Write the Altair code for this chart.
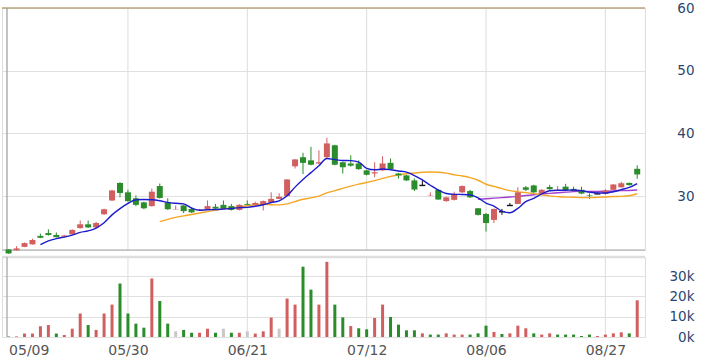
import altair as alt
import pandas as pd

# ---- data ----
tick_idx = [0, 15, 30, 45, 60, 75]
tick_labels = ["05/09", "05/30", "06/21", "07/12", "08/06", "08/27"]
price_ticks = [30, 40, 50, 60]
volume_ticks = [0, 10000, 20000, 30000]

opens = [21.5, 21.35, 21.9, 22.3, 23.65, 24.1, 23.8, 23.5, 23.9, 24.9,
         25.5, 25.0, 27.1, 29.3, 32.1, 30.6, 29.65, 29.0, 28.4, 31.6,
         29.0, 27.85, 28.5, 27.95, 27.75, 27.95, 28.3, 28.6, 28.4, 27.8,
         28.75, 28.6, 28.6, 29.0, 29.55, 30.0, 34.75, 36.2, 35.7, 35.2,
         36.2, 38.1, 35.4, 35.2, 35.2, 34.1, 33.6, 34.1, 35.3, 33.6,
         33.3, 32.5, 31.7, 30.05, 31.0, 29.2, 29.4, 30.6, 30.8, 28.05,
         27.15, 26.2, 27.5, 28.5, 28.75, 31.4, 31.7, 30.4, 31.45, 30.9,
         31.5, 31.15, 31.0, 30.1, 30.35, 30.35, 31.0, 31.4, 32.1, 34.35]
highs = [21.55, 22.0, 22.6, 23.2, 24.0, 24.7, 24.2, 23.8, 24.7, 26.1,
         26.1, 25.9, 28.0, 31.0, 32.2, 31.0, 30.1, 29.1, 31.2, 32.0,
         29.65, 28.5, 28.6, 28.1, 27.95, 29.3, 28.75, 29.3, 28.75, 28.7,
         29.3, 29.1, 29.3, 30.6, 30.45, 32.7, 35.9, 36.9, 37.85, 37.3,
         39.3, 38.2, 35.5, 36.5, 35.7, 34.2, 35.4, 36.35, 36.0, 33.7,
         33.4, 32.8, 32.5, 30.6, 31.1, 29.9, 30.7, 31.7, 31.0, 28.1,
         27.3, 28.0, 27.95, 28.9, 31.4, 31.6, 31.8, 31.1, 31.8, 31.6,
         31.95, 31.5, 31.5, 30.45, 30.6, 31.1, 31.9, 32.3, 32.15, 34.9]
lows = [20.8, 21.3, 21.85, 22.25, 23.3, 23.7, 23.4, 23.4, 23.8, 24.8,
        24.9, 24.9, 27.0, 29.2, 29.8, 29.1, 28.4, 27.9, 28.3, 29.6,
        27.8, 27.85, 27.3, 27.3, 27.7, 27.9, 27.9, 27.95, 27.7, 27.7,
        28.5, 28.55, 27.7, 28.9, 29.5, 29.95, 34.4, 33.5, 34.9, 35.1,
        36.0, 34.9, 33.6, 34.7, 34.2, 33.3, 33.0, 34.0, 34.2, 32.8,
        32.4, 30.8, 31.6, 30.0, 29.4, 29.1, 29.3, 30.5, 29.7, 26.9,
        24.35, 25.7, 27.0, 28.5, 28.7, 30.8, 30.5, 30.3, 31.0, 30.85,
        30.9, 30.7, 30.3, 29.55, 30.35, 30.2, 30.95, 31.35, 31.7, 32.75]
closes = [20.85, 21.65, 22.5, 23.0, 23.35, 23.8, 23.45, 23.7, 24.6, 25.5,
          25.0, 25.7, 27.9, 30.9, 30.5, 29.2, 28.6, 28.05, 30.7, 29.7,
          27.9, 27.9, 27.6, 27.4, 27.85, 28.4, 28.0, 28.0, 27.8, 28.6,
          28.6, 28.9, 29.2, 29.55, 29.9, 32.65, 35.85, 35.3, 35.0, 35.4,
          38.4, 35.0, 34.6, 34.85, 34.3, 33.4, 33.8, 35.2, 34.3, 33.3,
          32.5, 31.05, 31.7, 30.1, 29.45, 29.8, 30.35, 31.6, 29.8, 27.0,
          25.7, 27.95, 27.5, 28.5, 30.6, 31.0, 30.6, 31.0, 31.1, 31.0,
          30.95, 30.8, 30.4, 30.0, 30.35, 30.9, 31.85, 32.05, 31.75, 33.45]
volumes_k = [0.3, 0.3, 1.7, 1.7, 5.3, 5.9, 1.7, 1.0, 4.1, 11.6,
             5.9, 3.5, 11.6, 16.0, 26.4, 11.6, 6.6, 4.6, 28.9, 17.8,
             6.6, 2.8, 3.5, 2.1, 2.1, 4.1, 2.1, 4.1, 2.1, 2.1,
             2.8, 1.7, 2.8, 9.6, 4.1, 19.0, 16.0, 34.7, 23.4, 16.0,
             37.1, 16.0, 9.7, 5.4, 4.3, 3.8, 9.4, 16.0, 9.9, 6.1,
             3.3, 3.3, 1.8, 1.2, 1.2, 1.8, 1.2, 1.2, 1.2, 1.8,
             5.6, 2.5, 1.5, 1.8, 5.6, 4.3, 1.8, 1.2, 1.8, 1.2,
             1.2, 1.2, 0.5, 1.2, 0.5, 1.2, 1.8, 2.3, 1.8, 18.1]
# volume colour: u = close above previous close, d = below, f = unchanged
vol_dir = list("duuuuuduuu" "duuuddddud" "dfdduudfdu" "fuuufuuddu"
               "uddudduudd" "ddudduuudd" "duduuuduud" "dddduuuudu")

RED = "#d25f5f"
GREEN = "#2a8c2a"
GRAY_VOL = "#c8c8c8"
DOJI = "#111111"
LABEL_BLUE = "#2b4670"
FONT = "DejaVu Sans"

n = len(closes)
df = pd.DataFrame({
    "i": list(range(n)),
    "open": opens, "high": highs, "low": lows, "close": closes,
    "volume": [v * 1000 for v in volumes_k],
    "vdir": vol_dir[:n],
})
df["dir"] = ["up" if c > o else ("down" if c < o else "flat") for o, c in zip(opens, closes)]
grid_df = pd.DataFrame({"g": tick_idx[1:]})

XMIN, XMAX = -0.2, 79.35
YMIN, YMAX = 21.4, 60
VMAX = 39500
W = 643

x_scale = alt.Scale(domain=[XMIN, XMAX], nice=False, zero=False)
y_scale = alt.Scale(domain=[YMIN, YMAX], nice=False, zero=False)
v_scale = alt.Scale(domain=[0, VMAX], nice=False, zero=False)
c_scale = alt.Scale(domain=["up", "down", "flat"], range=[RED, GREEN, DOJI])
vc_scale = alt.Scale(domain=["u", "d", "f"], range=[RED, GREEN, GRAY_VOL])

label_expr = " : ".join(
    f"datum.value == {v} ? '{t}'" for v, t in zip(tick_idx, tick_labels)
) + " : ''"

y_main_axis = alt.Axis(orient="right", values=price_ticks, grid=True,
                       gridColor="#e0e0e0", domain=False, ticks=False, tickSize=0,
                       labelPadding=49, labelAlign="right", labelFontSize=13.5,
                       labelOverlap=False, labelColor=LABEL_BLUE, labelFont=FONT,
                       title=None)
y_vol_axis = alt.Axis(orient="right", values=volume_ticks, grid=True,
                      gridColor="#e0e0e0", domain=False, ticks=False, tickSize=0,
                      labelPadding=49, labelAlign="right", labelFontSize=13.5,
                      labelOverlap=False, labelColor=LABEL_BLUE, labelFont=FONT,
                      title=None, labelExpr="(datum.value / 1000) + 'k'")
x_vol_axis = alt.Axis(values=tick_idx, labelExpr=label_expr, ticks=False, domain=False,
                      grid=False, title=None, labelPadding=6,
                      labelFontSize=14, labelColor="#555555", labelFont=FONT,
                      labelAlign={"condition": {"test": "datum.value == 0", "value": "left"},
                                  "value": "center"})

base = alt.Chart(df)

vgrid_main = alt.Chart(grid_df).mark_rule(color="#dddddd", strokeWidth=1).encode(
    x=alt.X("g:Q", scale=x_scale, axis=None))
wick = base.mark_rule(strokeWidth=1).encode(
    x=alt.X("i:Q", scale=x_scale, axis=None),
    y=alt.Y("low:Q", scale=y_scale, axis=y_main_axis), y2="high:Q",
    color=alt.Color("dir:N", scale=c_scale, legend=None))
body = base.transform_filter("datum.open != datum.close").mark_bar(width=6).encode(
    x="i:Q", y="open:Q", y2="close:Q",
    color=alt.Color("dir:N", scale=c_scale, legend=None))
doji = base.transform_filter("datum.open == datum.close").transform_calculate(
    xa="datum.i - 0.37", xb="datum.i + 0.37").mark_rule(strokeWidth=1.4).encode(
    x="xa:Q", x2="xb:Q", y="close:Q",
    color=alt.Color("dir:N", scale=c_scale, legend=None))


def ma(nd, color):
    return base.transform_window(
        ma="mean(close)", frame=[-(nd - 1), 0], sort=[{"field": "i"}]
    ).transform_filter(f"datum.i >= {nd - 1}").mark_line(
        color=color, strokeWidth=1.4, interpolate="monotone"
    ).encode(x="i:Q", y="ma:Q")


ma5 = ma(5, "#1c1ccc")
ma20 = ma(20, "#f5a623")
ma60 = ma(60, "#a040d0")

top_line = alt.Chart(pd.DataFrame({"y": [YMAX]})).mark_rule(
    color="#b9a67d", strokeWidth=1.5).encode(
    y=alt.Y("y:Q", scale=y_scale, axis=y_main_axis))
bottom_line = alt.Chart(pd.DataFrame({"y": [YMIN]})).mark_rule(
    color="#a8a8a8", strokeWidth=1.2).encode(
    y=alt.Y("y:Q", scale=y_scale, axis=y_main_axis))
left_line = alt.Chart(pd.DataFrame({"x": [XMIN]})).mark_rule(
    color="#9a9a9a", strokeWidth=1.2).encode(x=alt.X("x:Q", scale=x_scale, axis=None))

main = alt.layer(vgrid_main, wick, top_line, bottom_line, left_line, ma60, ma20,
                 body, doji, ma5).properties(width=W, height=242)

vgrid_vol = alt.Chart(grid_df).mark_rule(color="#dddddd", strokeWidth=1).encode(
    x=alt.X("g:Q", scale=x_scale, axis=x_vol_axis))
vbars = base.mark_bar(width=3).encode(
    x=alt.X("i:Q", scale=x_scale, axis=x_vol_axis),
    y=alt.Y("volume:Q", scale=v_scale, axis=y_vol_axis),
    color=alt.Color("vdir:N", scale=vc_scale, legend=None))
vtop = alt.Chart(pd.DataFrame({"y": [VMAX]})).mark_rule(
    color="#dedede", strokeWidth=2.5).encode(
    y=alt.Y("y:Q", scale=v_scale, axis=y_vol_axis))
vleft = alt.Chart(pd.DataFrame({"x": [XMIN]})).mark_rule(
    color="#a0a0a0", strokeWidth=1.2).encode(x=alt.X("x:Q", scale=x_scale, axis=x_vol_axis))

vol = alt.layer(vgrid_vol, vbars, vtop, vleft).properties(width=W, height=80)

chart = alt.vconcat(main, vol, spacing=0).resolve_scale(color="independent").properties(
    padding={"left": 0, "top": 0, "right": 0, "bottom": 0}
).configure_view(stroke=None).configure(background="white")

chart.save("out.html", embed_options={"renderer": "svg", "actions": False})
